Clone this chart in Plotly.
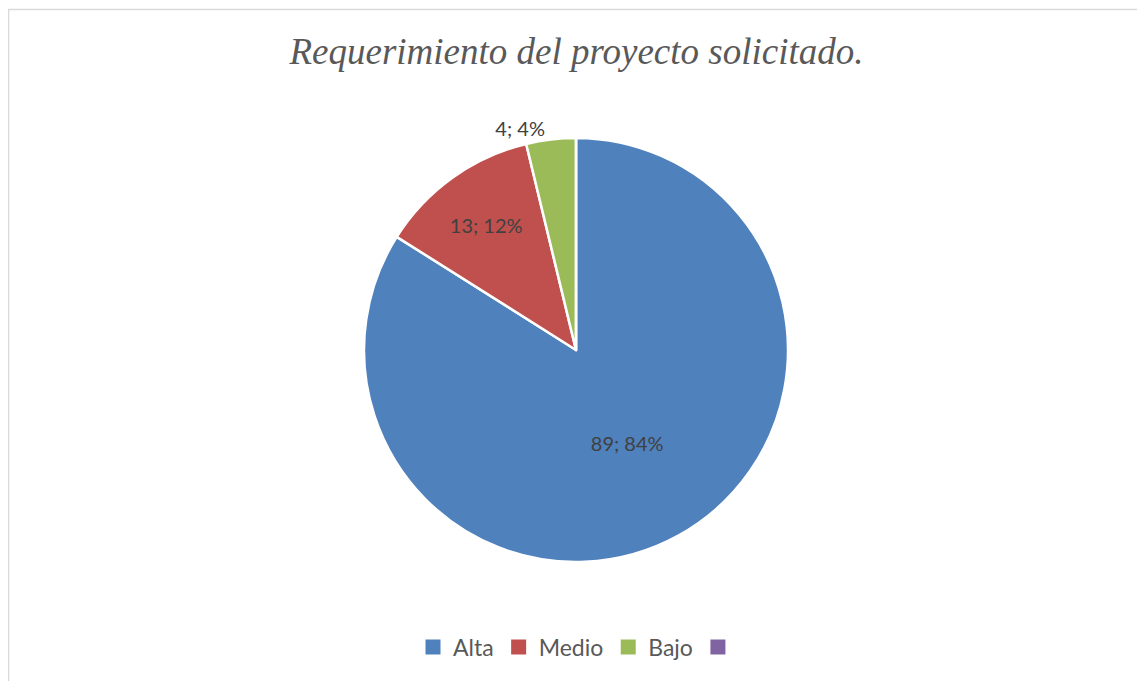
import plotly.graph_objects as go

categories = ["Alta", "Medio", "Bajo", " "]
values = [89, 13, 4, 0]
colors = ["#4F81BD", "#C0504D", "#9BBB59", "#8064A2"]

total = sum(values)
texts = [f"{v}; {round(100*v/total)}%" if v > 0 else "" for v in values]

W, H = 1145, 681
# page is rendered with an 8px body margin; positions below are figure coords
cx, cy, r = 568, 342, 212

label_font = dict(family="Lato, 'Open Sans', sans-serif", size=20, color="#404040")

fig = go.Figure()
fig.add_trace(go.Pie(
    labels=categories,
    values=values,
    text=texts,
    texttemplate="%{text}",
    textposition=["inside", "inside", "outside", "none"],
    insidetextorientation="horizontal",
    sort=False,
    direction="clockwise",
    rotation=0,
    marker=dict(colors=colors, line=dict(color="white", width=2.5)),
    textfont=label_font,
    outsidetextfont=label_font,
    hoverinfo="label+value+percent",
    domain=dict(x=[(cx - r) / W, (cx + r) / W], y=[(H - cy - r) / H, (H - cy + r) / H]),
    showlegend=False,
))

# legend entries with square swatches
for name, col in zip(categories, colors):
    fig.add_trace(go.Scatter(
        x=[None], y=[None], mode="markers", name=name,
        marker=dict(symbol="square", size=15, color=col),
        showlegend=True, hoverinfo="skip",
    ))

fig.update_layout(
    width=W, height=H,
    margin=dict(l=0, r=0, t=0, b=0),
    paper_bgcolor="white",
    plot_bgcolor="rgba(0,0,0,0)",
    xaxis=dict(visible=False),
    yaxis=dict(visible=False),
    title=dict(
        text="Requerimiento del proyecto solicitado.",
        font=dict(family="'Liberation Serif', 'Times New Roman', serif", size=37,
                  color="#595959", style="italic"),
        x=(cx + 0.5) / W, xanchor="center",
        y=1 - 43 / H, yanchor="middle",
        xref="paper", yref="paper",
    ),
    legend=dict(
        orientation="h",
        x=(cx + 5) / W, xanchor="center",
        y=1 - 639 / H, yanchor="middle",
        font=dict(family="Lato, 'Open Sans', sans-serif", size=23, color="#595959"),
        traceorder="normal",
        itemclick=False, itemdoubleclick=False,
    ),
    shapes=[dict(
        type="rect", xref="paper", yref="paper",
        x0=0.5 / W, x1=1135.5 / W, y0=-0.02, y1=1 - 1.5 / H,
        line=dict(color="#D9D9D9", width=1.5),
        fillcolor="rgba(0,0,0,0)",
        layer="below",
    )],
)

fig.write_html("out.html")
